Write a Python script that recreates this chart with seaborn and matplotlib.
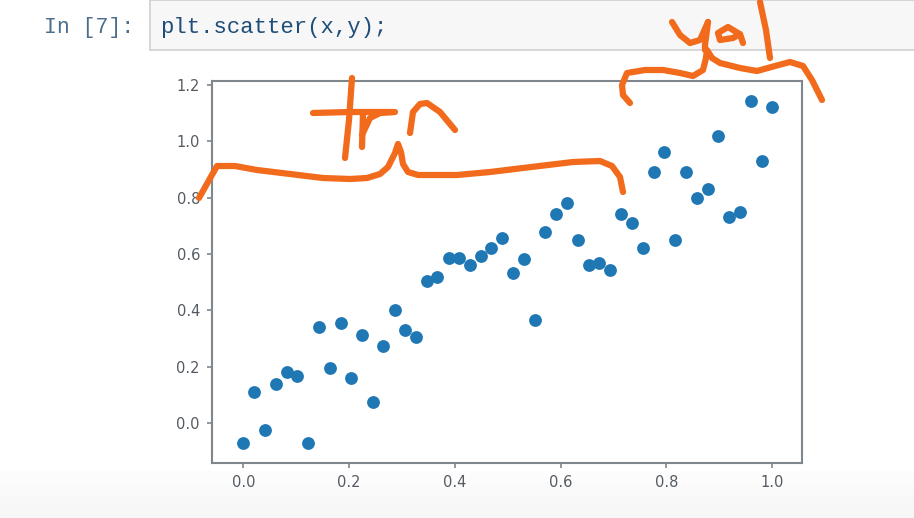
import numpy as np
import pandas as pd
import matplotlib
matplotlib.use("Agg")
import matplotlib.pyplot as plt
from matplotlib.lines import Line2D
from matplotlib.patches import Rectangle
import seaborn as sns

# ---- data ----
x_vals = [0.000, 0.020, 0.041, 0.061, 0.082, 0.102, 0.122, 0.143, 0.163, 0.184,
          0.204, 0.224, 0.245, 0.265, 0.286, 0.306, 0.327, 0.347, 0.367, 0.388,
          0.408, 0.429, 0.449, 0.469, 0.490, 0.510, 0.531, 0.551, 0.571, 0.592,
          0.612, 0.633, 0.653, 0.673, 0.694, 0.714, 0.735, 0.755, 0.776, 0.796,
          0.816, 0.837, 0.857, 0.878, 0.898, 0.918, 0.939, 0.959, 0.980, 1.000]
y_vals = [-0.071, 0.112, -0.024, 0.138, 0.181, 0.169, -0.069, 0.343, 0.195, 0.355,
          0.162, 0.312, 0.074, 0.274, 0.400, 0.331, 0.305, 0.505, 0.518, 0.587,
          0.587, 0.561, 0.593, 0.623, 0.656, 0.532, 0.581, 0.368, 0.680, 0.742,
          0.780, 0.649, 0.561, 0.568, 0.544, 0.742, 0.711, 0.623, 0.891, 0.962,
          0.649, 0.891, 0.800, 0.830, 1.018, 0.730, 0.749, 1.142, 0.930, 1.123]
x_ticks = [0.0, 0.2, 0.4, 0.6, 0.8, 1.0]
y_ticks = [0.0, 0.2, 0.4, 0.6, 0.8, 1.0, 1.2]
prompt_text = "In [7]:"
code_text = "plt.scatter(x,y);"

df = pd.DataFrame({"x": x_vals, "y": y_vals})

sns.set_style("white")
plt.rcParams["font.family"] = ["DejaVu Sans"]

W, H = 914, 518
fig = plt.figure(figsize=(W / 100, H / 100), dpi=100)
fig.patch.set_facecolor("white")

def fx(px):
    return px / W

def fy(py):
    return 1 - py / H

# very light grey bottom band of the notebook page
for i in range(12):
    y0 = 470 + i * 4
    fig.add_artist(Rectangle((0, fy(y0 + 4)), 1, 4 / H, transform=fig.transFigure,
                             facecolor=(0.0, 0.0, 0.0, 0.0025 * i + 0.008), edgecolor="none", zorder=0))

# code cell
fig.add_artist(Rectangle((fx(150), fy(50)), fx(800), 50 / H, transform=fig.transFigure,
                         facecolor="#f7f7f7", edgecolor="#cfcfcf", linewidth=1.2, zorder=1))
fig.text(fx(44), fy(27), prompt_text, family="Liberation Mono", fontsize=15.5,
         color="#4b6e8e", va="center", ha="left")
fig.text(fx(160), fy(27), code_text, family="Liberation Mono", fontsize=16,
         color="#1e4d78", va="center", ha="left")

# axes
ax = fig.add_axes([fx(211.7), fy(463.3), fx(801.7) - fx(211.7), fy(80.7) - fy(463.3)])
sns.scatterplot(data=df, x="x", y="y", ax=ax, s=85, color="#1f77b4", linewidth=0, zorder=3)
ax.set_xlim(-0.0597, 1.0556)
ax.set_ylim(-0.142, 1.215)
ax.set_xticks(x_ticks)
ax.set_yticks(y_ticks)
ax.set_xticklabels([f"{v:.1f}" for v in x_ticks])
ax.set_yticklabels([f"{v:.1f}" for v in y_ticks])
ax.set_xlabel("")
ax.set_ylabel("")
for s in ax.spines.values():
    s.set_color("#7f868c")
    s.set_linewidth(1.5)
ax.tick_params(axis="both", which="major", direction="out", length=3.5, width=1.2,
               color="#7f868c", labelcolor="#555b62", labelsize=10.5, pad=5,
               bottom=True, left=True)

# handwritten annotations (orange)
orange = "#f26b1d"

def stroke(pts, lw=4.5):
    xs = [fx(p[0]) for p in pts]
    ys = [fy(p[1]) for p in pts]
    fig.add_artist(Line2D(xs, ys, transform=fig.transFigure, color=orange, linewidth=lw,
                          solid_capstyle="round", solid_joinstyle="round", zorder=10))

# train brace
stroke([(199, 198), (208, 182), (217, 166), (235, 166), (257, 170), (290, 174), (323, 178),
        (350, 179), (367, 178), (380, 174), (388, 167), (395, 153), (398, 144), (401, 152),
        (403, 164), (408, 172), (418, 175), (457, 175), (490, 172), (523, 168), (573, 162),
        (600, 161), (612, 166), (620, 177), (623, 192)])
# "trn" letters
stroke([(352, 78), (349, 120), (345, 158)])
stroke([(313, 113), (350, 112), (393, 112)])
stroke([(363, 113), (362, 147)])
stroke([(362, 135), (370, 118), (380, 113), (395, 112)])
stroke([(410, 133), (413, 112), (420, 104), (427, 103), (440, 112), (455, 130)])

# val brace
stroke([(630, 103), (623, 95), (622, 85), (627, 73), (645, 70), (663, 70), (680, 73),
        (693, 76), (703, 70), (706, 58), (707, 50), (712, 58), (720, 63), (740, 68),
        (757, 71), (775, 66), (790, 62), (803, 66), (812, 80), (822, 100)])
# "val" letters (as written)
stroke([(672, 22), (680, 35), (690, 43), (700, 40), (708, 22)])
stroke([(708, 22), (705, 45), (705, 50)])
stroke([(738, 33), (728, 27), (718, 33), (720, 40), (733, 38), (740, 34), (743, 43)])
stroke([(760, 2), (766, 30), (770, 58)])

fig.savefig("out.png", dpi=100)
